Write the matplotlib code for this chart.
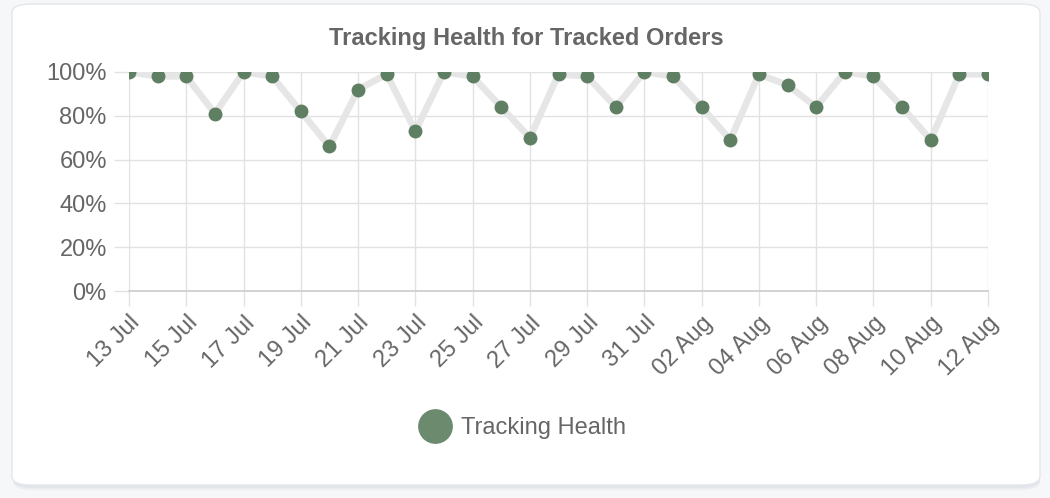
import matplotlib
matplotlib.use("Agg")
import matplotlib.pyplot as plt
from matplotlib.patches import FancyBboxPatch
from matplotlib.lines import Line2D

plt.rcParams['font.family'] = ['Liberation Sans', 'DejaVu Sans']

dates = ["13 Jul", "14 Jul", "15 Jul", "16 Jul", "17 Jul", "18 Jul", "19 Jul", "20 Jul",
         "21 Jul", "22 Jul", "23 Jul", "24 Jul", "25 Jul", "26 Jul", "27 Jul", "28 Jul",
         "29 Jul", "30 Jul", "31 Jul", "01 Aug", "02 Aug", "03 Aug", "04 Aug", "05 Aug",
         "06 Aug", "07 Aug", "08 Aug", "09 Aug", "10 Aug", "11 Aug", "12 Aug"]
health = [100, 98, 98, 81, 100, 98, 82, 66, 92, 99, 73, 100, 98, 84, 70, 99,
          98, 84, 100, 98, 84, 69, 99, 94, 84, 100, 98, 84, 69, 99, 99]
y_ticks = [0, 20, 40, 60, 80, 100]
y_labels = ["0%", "20%", "40%", "60%", "80%", "100%"]
title = "Tracking Health for Tracked Orders"
series_name = "Tracking Health"

W, H = 1050, 498
fig = plt.figure(figsize=(W / 100, H / 100), dpi=100)
fig.patch.set_facecolor("#f6f7f9")

# card with soft shadow
for i, (dy, col) in enumerate([(5, "#eceef2"), (3, "#e2e5ea")]):
    sh = FancyBboxPatch((13 / W, 1 - (485 + dy) / H), (1027 / W), (481 / H),
                        boxstyle="round,pad=0,rounding_size=0.018",
                        transform=fig.transFigure, facecolor=col,
                        edgecolor="none", zorder=0)
    fig.patches.append(sh)
card = FancyBboxPatch((12 / W, 1 - 485 / H), (1028 / W), (481 / H),
                      boxstyle="round,pad=0,rounding_size=0.018",
                      transform=fig.transFigure, facecolor="white",
                      edgecolor="#e3e6eb", linewidth=1.0, zorder=1)
fig.patches.append(card)

ax = fig.add_axes([129 / W, 1 - 291 / H, (988 - 129) / W, (291 - 72) / H])
ax.set_facecolor("none")
ax.set_zorder(2)

x = list(range(len(dates)))
ax.plot(x, health, color="#e6e6e6", linewidth=4.8, solid_capstyle="round",
        solid_joinstyle="round", zorder=2)
ax.plot(x, health, linestyle="none", marker="o", markersize=9,
        markerfacecolor="#5f7f63", markeredgecolor="#5f7f63", zorder=3)

ax.set_xlim(0, len(dates) - 1)
ax.set_ylim(0, 100)
ax.set_yticks(y_ticks)
ax.set_yticklabels(y_labels)
ax.set_xticks(x[::2])
ax.set_xticklabels(dates[::2], rotation=45, ha="right", rotation_mode="anchor")

ax.grid(True, color="#e2e2e2", linewidth=1)
for s in ["top", "right", "left"]:
    ax.spines[s].set_visible(False)
ax.spines["bottom"].set_color("#cfcfcf")
ax.spines["bottom"].set_linewidth(1.3)
ax.tick_params(axis="both", colors="#e2e2e2", labelcolor="#666666",
               labelsize=17, length=11, width=1)
ax.tick_params(axis="y", pad=5)
ax.tick_params(axis="x", pad=4)
ax.set_axisbelow(True)

fig.text(526 / W, 1 - 38 / H, title, ha="center", va="center",
         fontsize=17, fontweight="bold", color="#666666", zorder=5)

handle = Line2D([], [], linestyle="none", marker="o", markersize=24,
                markerfacecolor="#6b8a6e", markeredgecolor="#6b8a6e")
fig.legend([handle], [series_name], loc="center", bbox_to_anchor=(523 / W, 1 - 428 / H),
           frameon=False, fontsize=17, labelcolor="#666666", handletextpad=0.5,
           handlelength=1.2)

fig.savefig("out.png", dpi=100, facecolor=fig.get_facecolor())
